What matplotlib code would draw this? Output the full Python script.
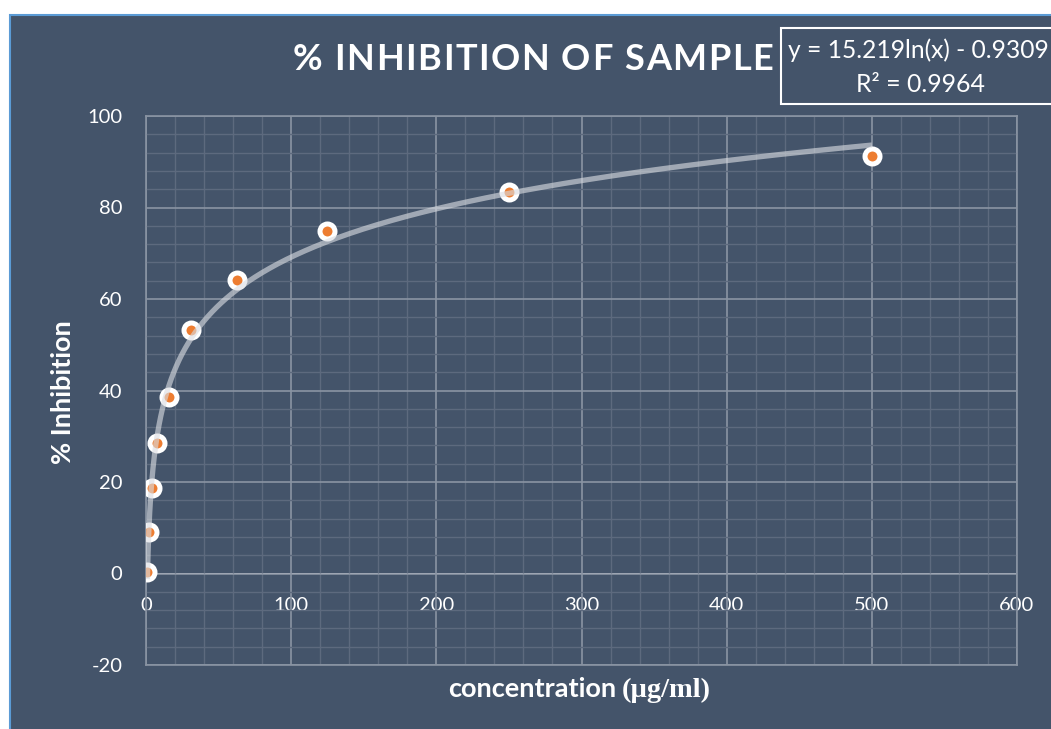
import matplotlib
matplotlib.use('Agg')
import matplotlib.pyplot as plt
import numpy as np
from matplotlib.patches import Rectangle
from matplotlib.ticker import MultipleLocator

# ---------------- data ----------------
conc = [0.98, 1.95, 3.9, 7.8, 15.6, 31.25, 62.5, 125, 250, 500]
inhib = [0.3, 9.0, 18.6, 28.6, 38.6, 53.2, 64.2, 74.9, 83.3, 91.3]
fit_a = 15.219
fit_b = -0.9309
r_squared = 0.9964
title = '% INHIBITION OF SAMPLE'
xlabel_main = 'concentration'
xlabel_unit = '(\u00b5g/ml)'
ylabel = '% Inhibition'
xticks = [0, 100, 200, 300, 400, 500, 600]
yticks = [-20, 0, 20, 40, 60, 80, 100]

# ---------------- style ----------------
W, H = 1051, 729
BG = '#44546A'
ORANGE = '#ED7D31'
GRID_MAJOR = '#8A94A3'
GRID_MINOR = '#5D6A7E'
FONT = 'Lato'
plt.rcParams['font.family'] = [FONT, 'DejaVu Sans']
plt.rcParams['axes.unicode_minus'] = False

fig = plt.figure(figsize=(W / 100, H / 100), dpi=100, facecolor='white')

def fx(px):
    return px / W

def fy(py):
    return 1 - py / H

# chart area background with blue border (left/top)
fig.add_artist(Rectangle((fx(10), -0.05), 1.2, fy(15) + 0.05, transform=fig.transFigure,
                         facecolor=BG, edgecolor='#5B9BD5', lw=1.5, zorder=0))

ax = fig.add_axes([fx(146), fy(665), fx(1017 - 146), (665 - 116) / H])
ax.set_facecolor('none')
ax.set_xlim(xticks[0], xticks[-1])
ax.set_ylim(yticks[0], yticks[-1])
ax.xaxis.set_major_locator(MultipleLocator(100))
ax.xaxis.set_minor_locator(MultipleLocator(20))
ax.yaxis.set_major_locator(MultipleLocator(20))
ax.yaxis.set_minor_locator(MultipleLocator(4))
ax.set_yticks(yticks)
ax.grid(which='major', color=GRID_MAJOR, lw=1.2, alpha=1)
ax.grid(which='minor', color=GRID_MINOR, lw=1.0, alpha=1)
ax.set_axisbelow(True)
for s in ax.spines.values():
    s.set_color(GRID_MAJOR)
    s.set_linewidth(1.2)
ax.tick_params(which='both', length=0)
ax.tick_params(axis='x', labelbottom=False)
ax.tick_params(axis='y', labelcolor='white', labelsize=14.5, pad=17)

# x tick labels sit under the y=0 line
loc = (0 - yticks[0]) / (yticks[-1] - yticks[0])
sec = ax.secondary_xaxis(loc)
sec.set_xticks(xticks)
sec.tick_params(length=0, pad=17, labelcolor='white', labelsize=14.5)
for s in sec.spines.values():
    s.set_visible(False)

# trendline and data points
xs = np.geomspace(min(conc), max(conc), 600)
ys = fit_a * np.log(xs) + fit_b
ax.plot(conc, inhib, ls='none', marker='o', ms=10.8, mfc=ORANGE, mec='white', mew=3.6, zorder=3)
ax.plot(xs, ys, color='#DADDE2', alpha=0.62, lw=3.8, zorder=4, solid_capstyle='butt')

# title with letter spacing
def spaced_text(s, xc, yc, spacing, **kw):
    renderer = fig.canvas.get_renderer()
    widths = []
    for ch in s:
        if ch == ' ':
            t = fig.text(0, 0, 'a a', **kw)
            wa = t.get_window_extent(renderer).width
            t.remove()
            t = fig.text(0, 0, 'aa', **kw)
            wb = t.get_window_extent(renderer).width
            t.remove()
            widths.append(wa - wb)
        else:
            t = fig.text(0, 0, ch, **kw)
            widths.append(t.get_window_extent(renderer).width)
            t.remove()
    total = sum(widths) + spacing * (len(s) - 1)
    x = xc - total / 2
    for ch, w in zip(s, widths):
        if ch != ' ':
            fig.text(fx(x), fy(yc), ch, ha='left', va='center', **kw)
        x += w + spacing

spaced_text(title, 533, 60, 1.6, fontsize=26, fontweight='bold', color='white')

# axis titles
fig.text(fx(63), fy(392), ylabel, rotation=90, ha='center', va='center',
         fontsize=19.5, fontweight='bold', color='white')
fig.text(fx(616), fy(697), xlabel_main, ha='right', va='baseline',
         fontsize=19.5, fontweight='bold', color='white')
fig.text(fx(622), fy(697), xlabel_unit, ha='left', va='baseline',
         fontsize=20.5, fontweight='bold', color='white', family='Liberation Serif')

# equation box
fig.add_artist(Rectangle((fx(781), fy(104)), fx(400), (104 - 28) / H, transform=fig.transFigure,
                         facecolor=BG, edgecolor='white', lw=1.5, zorder=5))
sign = '-' if fit_b < 0 else '+'
fig.text(fx(918), fy(50), f'y = {fit_a}ln(x) {sign} {abs(fit_b)}', ha='center', va='center',
         fontsize=17.7, color='white', zorder=6)
fig.text(fx(920), fy(84), f'R\u00b2 = {r_squared}', ha='center', va='center',
         fontsize=17.9, color='white', zorder=6)

fig.savefig('out.png', dpi=100, facecolor='white')
